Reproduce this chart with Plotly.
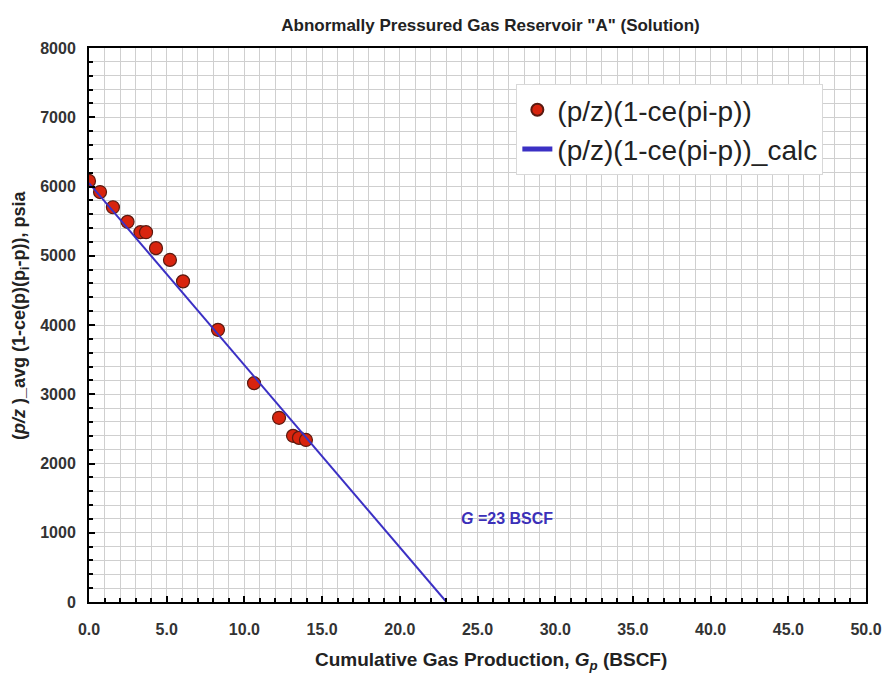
import plotly.graph_objects as go

# Data
gp = [0.0, 0.71, 1.54, 2.48, 3.31, 3.67, 4.31, 5.21, 6.05, 8.30, 10.62, 12.23, 13.13, 13.51, 13.96]
pz = [6080, 5920, 5700, 5490, 5340, 5340, 5110, 4940, 4630, 3930, 3160, 2660, 2400, 2370, 2340]
calc_gp = [0.0, 23.0]
calc_pz = [6050, 0]

FONT = "Liberation Sans, Arial, sans-serif"

fig = go.Figure()
fig.add_trace(go.Scatter(
    x=gp, y=pz, mode="markers", name="(p/z)(1-ce(pi-p))",
    marker=dict(color="#d8240e", size=13, line=dict(color="#5a1a10", width=1.2)),
))
fig.add_trace(go.Scatter(
    x=calc_gp, y=calc_pz, mode="lines", name="(p/z)(1-ce(pi-p))_calc",
    line=dict(color="#3b30c4", width=2),
))

axis_common = dict(
    showline=True, linecolor="black", linewidth=2, mirror=True,
    ticks="inside", ticklen=6, tickcolor="black", tickwidth=1.5,
    showgrid=True, gridcolor="#cfcfcf", gridwidth=1, zeroline=False,
    automargin=False,
    tickfont=dict(family=FONT, size=16, color="#333333", weight="bold"),
)

fig.update_layout(
    width=887, height=673,
    paper_bgcolor="white", plot_bgcolor="white",
    margin=dict(l=89, r=21, t=48, b=71),
    title=dict(
        text="<b>Abnormally Pressured Gas Reservoir \"A\" (Solution)</b>",
        x=0.553, xanchor="center", y=1 - 25 / 673, yanchor="middle",
        font=dict(family=FONT, size=17, color="#222222"),
        automargin=False,
    ),
    xaxis=dict(
        range=[0, 50], dtick=5, tickformat=".1f", ticklabelstandoff=12,
        minor=dict(dtick=1, showgrid=True, gridcolor="#cfcfcf", ticks="inside", ticklen=4, tickcolor="black"),
        **axis_common,
    ),
    yaxis=dict(
        range=[0, 8000], dtick=1000, ticklabelstandoff=8,
        minor=dict(dtick=200, showgrid=True, gridcolor="#cfcfcf", ticks="inside", ticklen=4, tickcolor="black"),
        **axis_common,
    ),
    legend=dict(
        x=0.55, y=0.935, xanchor="left", yanchor="top",
        bgcolor="white", bordercolor="#d8d8d8", borderwidth=1,
        font=dict(family=FONT, size=28, color="#222222"),
        itemsizing="constant",
    ),
    showlegend=True,
    annotations=[
        dict(
            x=26.9, y=1213, xref="x", yref="y", showarrow=False,
            text="<b><i>G</i> =23 BSCF</b>",
            font=dict(family=FONT, size=16, color="#3b30b8"),
        ),
        dict(
            x=(491 - 89) / 777, y=(602 - 661) / 554, xref="paper", yref="paper",
            xanchor="center", yanchor="middle", showarrow=False,
            text="<b>Cumulative Gas Production, <i>G</i><sub><i>p</i></sub> (BSCF)</b>",
            font=dict(family=FONT, size=19, color="#222222"),
        ),
        dict(
            x=(20 - 89) / 777, y=(602 - 315) / 554, xref="paper", yref="paper",
            xanchor="center", yanchor="middle", showarrow=False, textangle=-90,
            text="<b>(<i>p/z</i> )_avg (1-ce(p)(p<sub>i</sub>-p)), psia</b>",
            font=dict(family=FONT, size=18, color="#222222"),
        ),
    ],
)

fig.write_html("out.html", config={"displayModeBar": False},
               post_script="document.body.style.margin='0';")
